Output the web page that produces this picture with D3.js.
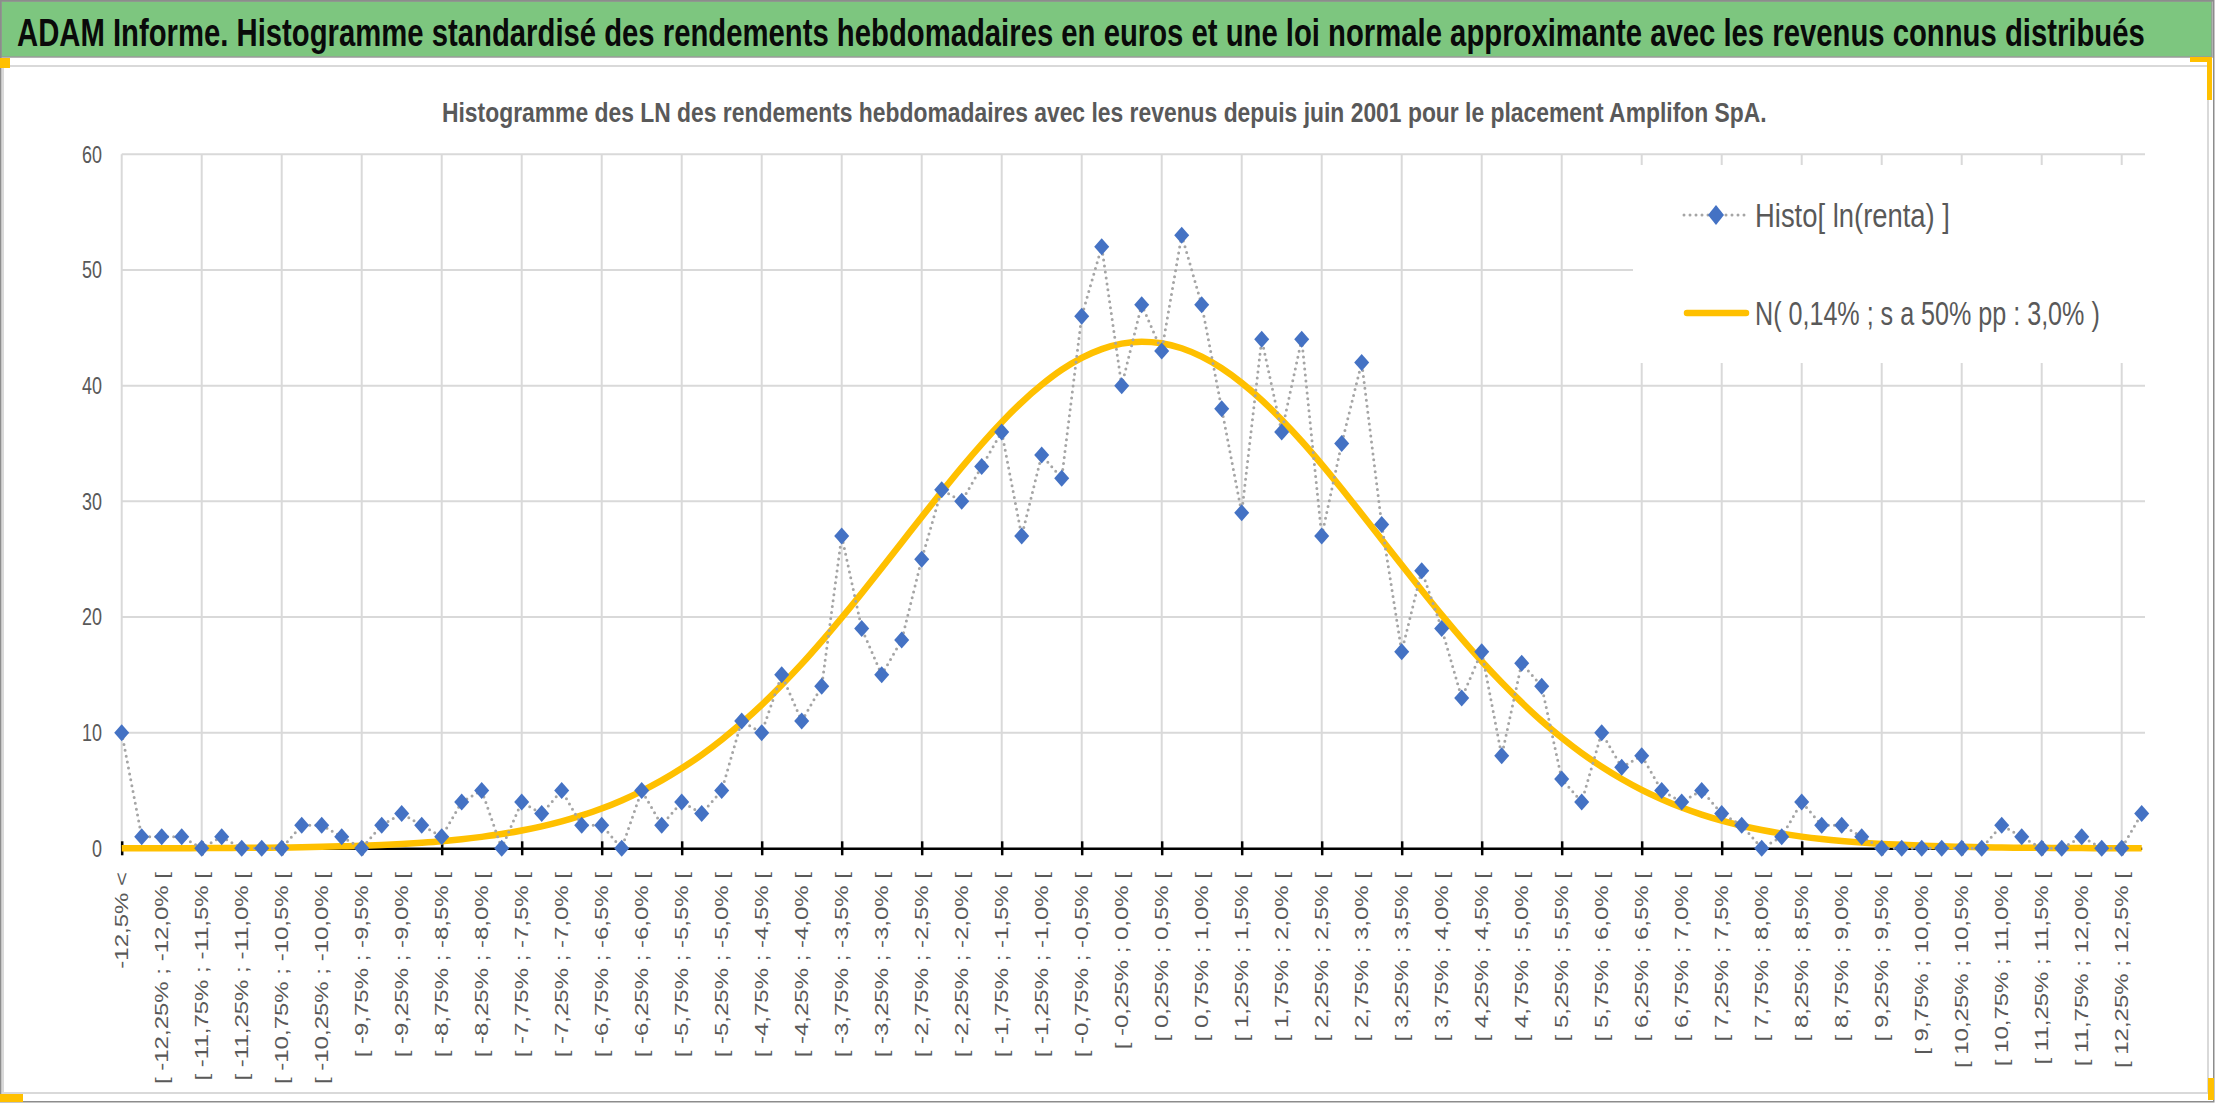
<!DOCTYPE html>
<html>
<head>
<meta charset="utf-8">
<script src="https://cdn.jsdelivr.net/npm/d3@7"></script>
<style>
  body { margin: 0; background: #fff; }
  text { font-family: "Liberation Sans", Arial, sans-serif; }
</style>
</head>
<body>
<svg id="draw"></svg>
<script>
// classes de rendements hebdomadaires (une etiquette sur deux est affichee)
var categories = [
  "-12,5% <",
  "[ -12,5% ; -12,25% [", "[ -12,25% ; -12,0% [", "[ -12,0% ; -11,75% [", "[ -11,75% ; -11,5% [",
  "[ -11,5% ; -11,25% [", "[ -11,25% ; -11,0% [", "[ -11,0% ; -10,75% [", "[ -10,75% ; -10,5% [",
  "[ -10,5% ; -10,25% [", "[ -10,25% ; -10,0% [", "[ -10,0% ; -9,75% [", "[ -9,75% ; -9,5% [",
  "[ -9,5% ; -9,25% [", "[ -9,25% ; -9,0% [", "[ -9,0% ; -8,75% [", "[ -8,75% ; -8,5% [",
  "[ -8,5% ; -8,25% [", "[ -8,25% ; -8,0% [", "[ -8,0% ; -7,75% [", "[ -7,75% ; -7,5% [",
  "[ -7,5% ; -7,25% [", "[ -7,25% ; -7,0% [", "[ -7,0% ; -6,75% [", "[ -6,75% ; -6,5% [",
  "[ -6,5% ; -6,25% [", "[ -6,25% ; -6,0% [", "[ -6,0% ; -5,75% [", "[ -5,75% ; -5,5% [",
  "[ -5,5% ; -5,25% [", "[ -5,25% ; -5,0% [", "[ -5,0% ; -4,75% [", "[ -4,75% ; -4,5% [",
  "[ -4,5% ; -4,25% [", "[ -4,25% ; -4,0% [", "[ -4,0% ; -3,75% [", "[ -3,75% ; -3,5% [",
  "[ -3,5% ; -3,25% [", "[ -3,25% ; -3,0% [", "[ -3,0% ; -2,75% [", "[ -2,75% ; -2,5% [",
  "[ -2,5% ; -2,25% [", "[ -2,25% ; -2,0% [", "[ -2,0% ; -1,75% [", "[ -1,75% ; -1,5% [",
  "[ -1,5% ; -1,25% [", "[ -1,25% ; -1,0% [", "[ -1,0% ; -0,75% [", "[ -0,75% ; -0,5% [",
  "[ -0,5% ; -0,25% [", "[ -0,25% ; 0,0% [", "[ 0,0% ; 0,25% [", "[ 0,25% ; 0,5% [",
  "[ 0,5% ; 0,75% [", "[ 0,75% ; 1,0% [", "[ 1,0% ; 1,25% [", "[ 1,25% ; 1,5% [",
  "[ 1,5% ; 1,75% [", "[ 1,75% ; 2,0% [", "[ 2,0% ; 2,25% [", "[ 2,25% ; 2,5% [",
  "[ 2,5% ; 2,75% [", "[ 2,75% ; 3,0% [", "[ 3,0% ; 3,25% [", "[ 3,25% ; 3,5% [",
  "[ 3,5% ; 3,75% [", "[ 3,75% ; 4,0% [", "[ 4,0% ; 4,25% [", "[ 4,25% ; 4,5% [",
  "[ 4,5% ; 4,75% [", "[ 4,75% ; 5,0% [", "[ 5,0% ; 5,25% [", "[ 5,25% ; 5,5% [",
  "[ 5,5% ; 5,75% [", "[ 5,75% ; 6,0% [", "[ 6,0% ; 6,25% [", "[ 6,25% ; 6,5% [",
  "[ 6,5% ; 6,75% [", "[ 6,75% ; 7,0% [", "[ 7,0% ; 7,25% [", "[ 7,25% ; 7,5% [",
  "[ 7,5% ; 7,75% [", "[ 7,75% ; 8,0% [", "[ 8,0% ; 8,25% [", "[ 8,25% ; 8,5% [",
  "[ 8,5% ; 8,75% [", "[ 8,75% ; 9,0% [", "[ 9,0% ; 9,25% [", "[ 9,25% ; 9,5% [",
  "[ 9,5% ; 9,75% [", "[ 9,75% ; 10,0% [", "[ 10,0% ; 10,25% [", "[ 10,25% ; 10,5% [",
  "[ 10,5% ; 10,75% [", "[ 10,75% ; 11,0% [", "[ 11,0% ; 11,25% [", "[ 11,25% ; 11,5% [",
  "[ 11,5% ; 11,75% [", "[ 11,75% ; 12,0% [", "[ 12,0% ; 12,25% [", "[ 12,25% ; 12,5% [",
  "> 12,5%"
];

// effectifs observes par classe
var histo = [
  10, 1, 1, 1, 0, 1, 0, 0, 0, 2,
  2, 1, 0, 2, 3, 2, 1, 4, 5, 0,
  4, 3, 5, 2, 2, 0, 5, 2, 4, 3,
  5, 11, 10, 15, 11, 14, 27, 19, 15, 18,
  25, 31, 30, 33, 36, 27, 34, 32, 46, 52,
  40, 47, 43, 53, 47, 38, 29, 44, 36, 44,
  27, 35, 42, 28, 17, 24, 19, 13, 17, 8,
  16, 14, 6, 4, 10, 7, 8, 5, 4, 5,
  3, 2, 0, 1, 4, 2, 2, 1, 0, 0,
  0, 0, 0, 0, 2, 1, 0, 0, 1, 0,
  0, 3
];

// courbe normale
var normale = [
  0.00, 0.01, 0.01, 0.01, 0.02, 0.03, 0.04, 0.05, 0.07, 0.09,
  0.13, 0.17, 0.22, 0.29, 0.37, 0.48, 0.61, 0.78, 0.99, 1.23,
  1.54, 1.90, 2.33, 2.85, 3.44, 4.14, 4.95, 5.87, 6.92, 8.08,
  9.39, 10.83, 12.40, 14.12, 15.94, 17.89, 19.93, 22.05, 24.23, 26.43,
  28.65, 30.82, 32.94, 34.95, 36.84, 38.56, 40.07, 41.37, 42.40, 43.16,
  43.63, 43.80, 43.67, 43.23, 42.50, 41.50, 40.24, 38.75, 37.05, 35.19,
  33.19, 31.08, 28.91, 26.70, 24.49, 22.31, 20.18, 18.13, 16.17, 14.33,
  12.61, 11.01, 9.56, 8.23, 7.05, 5.99, 5.05, 4.24, 3.52, 2.91,
  2.39, 1.95, 1.58, 1.27, 1.01, 0.80, 0.63, 0.49, 0.38, 0.30,
  0.23, 0.17, 0.13, 0.10, 0.07, 0.05, 0.04, 0.03, 0.02, 0.01,
  0.01, 0.00
];

var yTicks = [0, 10, 20, 30, 40, 50, 60];
var legendLabels = ["Histo[ ln(renta) ]", "N( 0,14% ; s a 50% pp : 3,0% )"];
var titre = "ADAM Informe. Histogramme standardisé des rendements hebdomadaires en euros et une loi normale approximante avec les revenus connus distribués";
var sousTitre = "Histogramme des LN des rendements hebdomadaires avec les revenus depuis juin 2001 pour le placement Amplifon SpA.";

const width = 2216;
const height = 1103;
const textGrey = "#595959";
const squeeze = 0.78;   // the picture is narrower than the fonts

var svg = d3.select("#draw")
  .attr("width", width)
  .attr("height", height);

svg.append("rect").attr("width", width).attr("height", height).attr("fill", "#fff");

// squeeze a text horizontally so that it spans exactly w pixels from x
function fitText(t, xPos, yPos, w) {
  var natural = t.node().getComputedTextLength();
  t.attr("transform", "translate(" + xPos + "," + yPos + ") scale(" + (w / natural) + ",1)");
  return t;
}

// green title band
svg.append("rect")
  .attr("x", 1).attr("y", 1).attr("width", 2211).attr("height", 56)
  .attr("fill", "#7dc67f").attr("stroke", "#9a9a9a").attr("stroke-width", 1.5);

fitText(svg.append("text")
  .style("font-size", "38px").style("font-weight", "bold").attr("fill", "#0a0a0a")
  .text(titre), 17, 46, 2129);

// chart area frame
svg.append("rect")
  .attr("x", 3).attr("y", 66).attr("width", 2205).attr("height", 1027)
  .attr("fill", "none").attr("stroke", "#d9d9d9").attr("stroke-width", 2);

svg.append("rect")
  .attr("x", 0.75).attr("y", 0.75).attr("width", 2213).attr("height", 1101)
  .attr("fill", "none").attr("stroke", "#8c8c8c").attr("stroke-width", 1.5);

// little yellow selection marks on the corners
[[0, 58, 10, 10], [2190, 57, 22, 5], [2207, 57, 5, 43], [0, 1094, 23, 8], [2208, 1078, 6, 22]]
  .forEach(function(r) {
    svg.append("rect").attr("x", r[0]).attr("y", r[1]).attr("width", r[2]).attr("height", r[3])
      .attr("fill", "#ffc000");
  });

fitText(svg.append("text")
  .style("font-size", "27px").style("font-weight", "bold").attr("fill", textGrey)
  .text(sousTitre), 442, 122, 1325);

// scales
var x = d3.scalePoint()
  .domain(categories)
  .range([121.7, 2141.7]);

var y = d3.scaleLinear()
  .domain([0, 60])
  .range([848.3, 154.3]);

// gridlines
var grid = svg.append("g").attr("stroke", "#d9d9d9").attr("stroke-width", 2);

grid.selectAll(".hgrid")
  .data(yTicks.slice(1))
  .enter().append("line")
  .attr("x1", x.range()[0]).attr("x2", 2145)
  .attr("y1", d => y(d)).attr("y2", d => y(d));

grid.selectAll(".vgrid")
  .data(categories.filter((d, i) => i % 4 == 0))
  .enter().append("line")
  .attr("x1", d => x(d)).attr("x2", d => x(d))
  .attr("y1", y(60)).attr("y2", y(0));

// legend box hides the grid behind it
svg.append("rect")
  .attr("x", 1633).attr("y", 165).attr("width", 530).attr("height", 198)
  .attr("fill", "#fff");

// y labels
svg.selectAll(".ylab")
  .data(yTicks)
  .enter().append("text")
  .attr("transform", d => "translate(102," + y(d) + ") scale(" + squeeze + ",1)")
  .attr("dy", "0.36em")
  .attr("text-anchor", "end")
  .style("font-size", "23px")
  .attr("fill", textGrey)
  .text(d => d);

// x axis: black line and crossing ticks every 4 classes
var xAxis = d3.axisBottom(x)
  .tickValues(categories.filter((d, i) => i % 4 == 0))
  .tickSize(7)
  .tickSizeOuter(0)
  .tickFormat("");

var gx = svg.append("g")
  .attr("transform", "translate(0," + y(0) + ")")
  .call(xAxis);
gx.select(".domain").attr("stroke", "#000").attr("stroke-width", 2.5);
gx.selectAll(".tick line").attr("y1", -7).attr("y2", 7).attr("stroke", "#000").attr("stroke-width", 2.5);

// x labels, one out of two, rotated
svg.selectAll(".xlab")
  .data(categories.filter((d, i) => i % 2 == 0))
  .enter().append("text")
  .attr("transform", d => "translate(" + x(d) + ",872) rotate(-90) scale(1," + squeeze + ")")
  .attr("dy", "0.36em")
  .attr("text-anchor", "end")
  .style("font-size", "24px")
  .attr("fill", textGrey)
  .text(d => d);

// normal curve
var courbe = d3.line()
  .x((d, i) => x(categories[i]))
  .y(d => y(d))
  .curve(d3.curveMonotoneX);

svg.append("path")
  .datum(normale)
  .attr("d", courbe)
  .attr("fill", "none")
  .attr("stroke", "#ffc000")
  .attr("stroke-width", 6.5)
  .attr("stroke-linejoin", "round");

// histogram line (dotted) and diamonds
var ligne = d3.line()
  .x((d, i) => x(categories[i]))
  .y(d => y(d));

svg.append("path")
  .datum(histo)
  .attr("d", ligne)
  .attr("fill", "none")
  .attr("stroke", "#a5a5a5")
  .attr("stroke-width", 3)
  .attr("stroke-dasharray", "0,6")
  .attr("stroke-linecap", "round");

function diamond(cx, cy, w, h) {
  return "M" + cx + "," + (cy - h) + "L" + (cx + w) + "," + cy +
    "L" + cx + "," + (cy + h) + "L" + (cx - w) + "," + cy + "Z";
}

svg.selectAll(".pt")
  .data(histo)
  .enter().append("path")
  .attr("d", (d, i) => diamond(x(categories[i]), y(d), 7.5, 8.5))
  .attr("fill", "#4472c4");

// legend
var lg = svg.append("g");

lg.append("line")
  .attr("x1", 1684).attr("x2", 1748).attr("y1", 215).attr("y2", 215)
  .attr("stroke", "#a5a5a5").attr("stroke-width", 3)
  .attr("stroke-dasharray", "0,6").attr("stroke-linecap", "round");
lg.append("path")
  .attr("d", diamond(1716, 215, 8, 10))
  .attr("fill", "#4472c4");
fitText(lg.append("text")
  .style("font-size", "34px").attr("fill", textGrey)
  .text(legendLabels[0]), 1755, 227, 195);

lg.append("line")
  .attr("x1", 1687).attr("x2", 1746).attr("y1", 313).attr("y2", 313)
  .attr("stroke", "#ffc000").attr("stroke-width", 6.5).attr("stroke-linecap", "round");
fitText(lg.append("text")
  .style("font-size", "34px").attr("fill", textGrey)
  .text(legendLabels[1]), 1755, 325, 345);
</script>
</body>
</html>
